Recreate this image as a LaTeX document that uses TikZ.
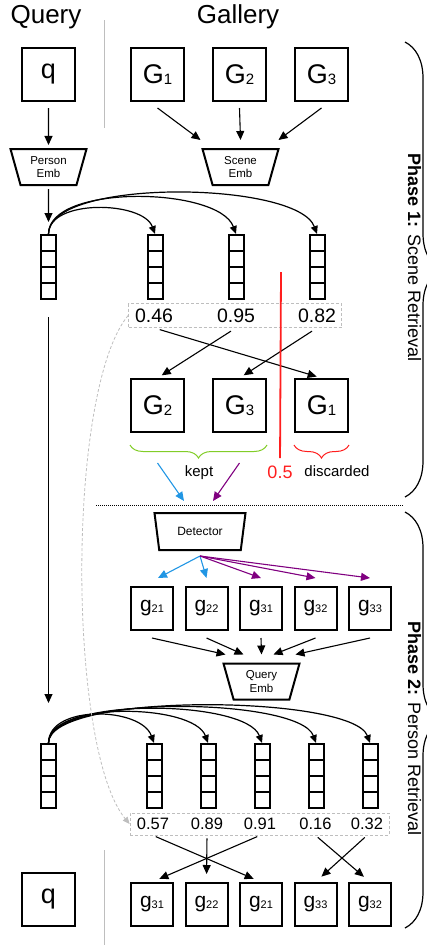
\documentclass[tikz,border=0pt]{standalone}
\usepackage{fontspec}
\setmainfont{Liberation Sans}
\usepackage{tikz}
\usetikzlibrary{arrows.meta, positioning, shapes.geometric, decorations.pathreplacing, calc}
\definecolor{detblue}{RGB}{33, 150, 228}
\definecolor{detpurple}{RGB}{128, 0, 128}
\definecolor{keptgreen}{RGB}{130, 205, 40}
\definecolor{dropred}{RGB}{255, 30, 30}
\definecolor{sepgray}{RGB}{190, 190, 190}
\newcommand{\Gsub}[1]{G\raisebox{-1pt}{\fontsize{15}{15}\selectfont #1}}
\newcommand{\gsub}[1]{g\raisebox{-1pt}{\fontsize{11}{11}\selectfont #1}}

\begin{document}
\begin{tikzpicture}[
  x=1pt, y=1pt,
  title/.style={font=\fontsize{26}{30}\selectfont, anchor=base},
  imgbox/.style={rectangle, draw, line width=2pt, minimum size=53pt, inner sep=0pt,
                 font=\fontsize{27}{30}\selectfont},
  cropbox/.style={rectangle, draw, line width=2pt, minimum width=42pt, minimum height=43pt,
                  inner sep=0pt, font=\fontsize{21}{24}\selectfont},
  embbox/.style={trapezium, trapezium stretches body, shape border rotate=180,
                 trapezium angle=65, draw, line width=2pt, minimum width=76pt,
                 minimum height=36pt, inner sep=0pt, align=center,
                 font=\fontsize{11.5}{13.5}\selectfont},
  featvec/.style={rectangle, draw, line width=2pt, minimum width=15pt, minimum height=64pt,
                  inner sep=0pt,
                  path picture={\foreach \k in {1,2,3}
                    \draw[line width=2pt]
                      ($(path picture bounding box.north west)!\k/4!(path picture bounding box.south west)$) --
                      ($(path picture bounding box.north east)!\k/4!(path picture bounding box.south east)$);}},
  scorebox/.style={rectangle, draw=sepgray, dash pattern=on 3pt off 2pt, line width=0.8pt,
                   inner sep=0pt},
  score/.style={font=\fontsize{19.5}{22}\selectfont, inner sep=0pt},
  scoresm/.style={font=\fontsize{16.5}{20}\selectfont, inner sep=0pt},
  arrow/.style={-{Triangle[length=9pt, width=8pt]}, line width=1.1pt},
  linkarrow/.style={-{Triangle[length=8pt, width=7pt]}, line width=1.2pt},
  bluearrow/.style={arrow, draw=detblue},
  purplearrow/.style={arrow, draw=detpurple},
  jumparrow/.style={-{Triangle[length=7pt, width=6pt, fill=sepgray]}, draw=sepgray,
                    dash pattern=on 3pt off 2pt, line width=0.8pt},
  sepline/.style={draw=sepgray, line width=1pt},
  keptbrace/.style={decorate, decoration={brace, amplitude=13pt}, draw=keptgreen, line width=1pt},
  dropbrace/.style={decorate, decoration={brace, amplitude=13pt}, draw=dropred, line width=1pt},
  phasebrace/.style={decorate, decoration={brace, amplitude=36pt}, line width=1.2pt},
  phase/.style={rotate=-90, font=\fontsize{18}{20}\selectfont, inner sep=0pt},
  note/.style={font=\fontsize{15}{18}\selectfont, anchor=base}
]
\useasboundingbox (0,0) rectangle (426,-945);

\node[title] (qtitle) at (46,-23)  {Query};
\node[title] (gtitle) at (238,-23) {Gallery};
\draw[sepline] (104,-20) -- (104,-128);

\node[imgbox] (q)  at (48.5,-74.5)  {q};
\node[imgbox] (G1) at (157.5,-74.5) {\Gsub{1}};
\node[imgbox, right=27pt of G1] (G2) {\Gsub{2}};
\node[imgbox, right=27pt of G2] (G3) {\Gsub{3}};

\node[embbox] (pemb) at (48.5,-167)  {Person\\Emb};
\node[embbox] (semb) at (240.5,-167) {Scene\\Emb};

\draw[arrow] ([yshift=-6pt]q.south)  -- ([yshift=3pt]pemb.north);
\draw[arrow] ([yshift=-6pt]G1.south) -- ([xshift=-40pt, yshift=8pt]semb.north);
\draw[arrow] ([yshift=-6pt]G2.south) -- ([yshift=8pt]semb.north);
\draw[arrow] ([yshift=-6pt]G3.south) -- ([xshift=38pt, yshift=8pt]semb.north);

\node[featvec] (qvec) at (48.5,-267) {};
\node[featvec] (v1)   at (155,-267)  {};
\node[featvec, right=64pt of v1] (v2) {};
\node[featvec, right=64pt of v2] (v3) {};

\draw[arrow] ([yshift=-3pt]pemb.south) -- ([yshift=12pt]qvec.north);
\draw[linkarrow] (qvec.north) to[out=90, in=110, looseness=0.85] (v1.north);
\draw[linkarrow] (qvec.north) to[out=90, in=110, looseness=0.69] (v2.north);
\draw[linkarrow] (qvec.north) to[out=90, in=110, looseness=0.54] (v3.north);

\node[scorebox, minimum width=213pt, minimum height=24pt] (scoreA) at (235,-315.5) {};
\node[score] (sA1) at (154,-316) {0.46};
\node[score] (sA2) at (236,-316) {0.95};
\node[score] (sA3) at (317,-316) {0.82};

\node[imgbox] (G2b) at (157.5,-405.5) {\Gsub{2}};
\node[imgbox, right=27pt of G2b] (G3b) {\Gsub{3}};
\node[imgbox, right=27pt of G3b] (G1b) {\Gsub{1}};

\draw[arrow, shorten <=6pt, shorten >=5pt] (sA1 |- scoreA.south) -- (G1b.north);
\draw[arrow, shorten <=6pt, shorten >=5pt] (sA2 |- scoreA.south) -- (G2b.north);
\draw[arrow, shorten <=6pt, shorten >=5pt] (sA3 |- scoreA.south) -- (G3b.north);

\coordinate (thrtop) at (281,-272);
\node[font=\fontsize{18}{20}\selectfont, text=dropred, anchor=base, inner sep=0pt] (thr) at (280,-478) {0.5};
\draw[dropred, line width=1.8pt, shorten >=7pt] (thrtop) -- (thr.north);

\draw[keptbrace] ([yshift=-12pt]G3b.south east) -- ([yshift=-12pt]G2b.south west);
\draw[dropbrace] ([yshift=-12pt]G1b.south east) -- ([yshift=-12pt]G1b.south west);
\node[note] (kept) at (199,-476) {kept};
\node[note] (drop) at (337,-476) {discarded};

\draw[line width=1pt, dash pattern=on 1pt off 1pt] (96,-505) -- (403,-505);

\node[embbox, trapezium angle=60.6, minimum width=91pt, minimum height=37pt,
      font=\fontsize{12}{14}\selectfont] (det) at (200,-531.5) {Detector};

\draw[bluearrow]   ([yshift=-30pt]G2b.south) -- ([xshift=-16pt, yshift=11pt]det.north);
\draw[purplearrow] ([yshift=-30pt]G3b.south) -- ([xshift=13pt, yshift=11pt]det.north);

\node[cropbox] (g21) at (152,-608.5) {\gsub{21}};
\node[cropbox, right=10.5pt of g21] (g22) {\gsub{22}};
\node[cropbox, right=10.5pt of g22] (g31) {\gsub{31}};
\node[cropbox, right=10.5pt of g31] (g32) {\gsub{32}};
\node[cropbox, right=10.5pt of g32] (g33) {\gsub{33}};

\draw[bluearrow]   ([yshift=-5pt]det.south) -- ([xshift=6pt, yshift=8pt]g21.north);
\draw[bluearrow]   ([yshift=-5pt]det.south) -- ([yshift=8pt]g22.north);
\draw[purplearrow] ([yshift=-5pt]det.south) -- ([yshift=8pt]g31.north);
\draw[purplearrow] ([yshift=-5pt]det.south) -- ([yshift=8pt]g32.north);
\draw[purplearrow] ([yshift=-5pt]det.south) -- ([yshift=8pt]g33.north);

\node[embbox] (qemb) at (261.5,-681.5) {Query\\Emb};

\draw[arrow] ([yshift=-7pt]g21.south) -- ([xshift=-36pt, yshift=8pt]qemb.north);
\draw[arrow] ([yshift=-7pt]g22.south) -- ([xshift=-18pt, yshift=8pt]qemb.north);
\draw[arrow] ([yshift=-7pt]g31.south) -- ([yshift=8pt]qemb.north);
\draw[arrow] ([yshift=-7pt]g32.south) -- ([xshift=12pt, yshift=8pt]qemb.north);
\draw[arrow] ([yshift=-7pt]g33.south) -- ([xshift=34pt, yshift=8pt]qemb.north);

\node[featvec] (qvecB) at (48.5,-776) {};
\node[featvec] (vB1)   at (154,-776)  {};
\node[featvec, right=37pt of vB1] (vB2) {};
\node[featvec, right=37pt of vB2] (vB3) {};
\node[featvec, right=37pt of vB3] (vB4) {};
\node[featvec, right=37pt of vB4] (vB5) {};

\draw[arrow] ([yshift=-17pt]qvec.south) -- ([yshift=40pt]qvecB.north);
\draw[linkarrow] (qvecB.north) to[out=90, in=110, looseness=0.94] (vB1.north);
\draw[linkarrow] (qvecB.north) to[out=90, in=110, looseness=0.68] (vB2.north);
\draw[linkarrow] (qvecB.north) to[out=90, in=110, looseness=0.56] (vB3.north);
\draw[linkarrow] (qvecB.north) to[out=90, in=110, looseness=0.47] (vB4.north);
\draw[linkarrow] (qvecB.north) to[out=90, in=110, looseness=0.41] (vB5.north);

\node[scorebox, minimum width=259pt, minimum height=22pt] (scoreB) at (259.5,-824) {};
\node[scoresm] (sB1) at (153,-824)   {0.57};
\node[scoresm] (sB2) at (207,-824)   {0.89};
\node[scoresm] (sB3) at (260,-824)   {0.91};
\node[scoresm] (sB4) at (315.5,-824) {0.16};
\node[scoresm] (sB5) at (367,-824)   {0.32};

\draw[jumparrow] (scoreA.west) .. controls +(-62,-75) and +(-62,75) .. (scoreB.west);

\draw[sepline] (104,-850) -- (104,-945);
\node[imgbox] (qB) at (48.5,-899.5) {q};
\node[cropbox] (b31) at (152,-904.5) {\gsub{31}};
\node[cropbox, right=10.5pt of b31] (b22) {\gsub{22}};
\node[cropbox, right=10.5pt of b22] (b21) {\gsub{21}};
\node[cropbox, right=10.5pt of b21] (b33) {\gsub{33}};
\node[cropbox, right=10.5pt of b33] (b32) {\gsub{32}};

\draw[arrow, shorten <=3pt, shorten >=8pt] (sB1 |- scoreB.south) -- (b21.north);
\draw[arrow, shorten <=3pt, shorten >=8pt] (sB2 |- scoreB.south) -- (b22.north);
\draw[arrow, shorten <=3pt, shorten >=8pt] (sB3 |- scoreB.south) -- (b31.north);
\draw[arrow, shorten <=3pt, shorten >=8pt] (sB4 |- scoreB.south) -- (b32.north);
\draw[arrow, shorten <=3pt, shorten >=8pt] (sB5 |- scoreB.south) -- (b33.north);

\draw[phasebrace] (405,-42) -- (405,-497);
\draw[phasebrace] (405,-512) -- (405,-928);
\node[phase] (phaseA) at (414.5,-257.5) {\textbf{Phase 1:} Scene Retrieval};
\node[phase] (phaseB) at (414.5,-728.5) {\textbf{Phase 2:} Person Retrieval};
\end{tikzpicture}
\end{document}
